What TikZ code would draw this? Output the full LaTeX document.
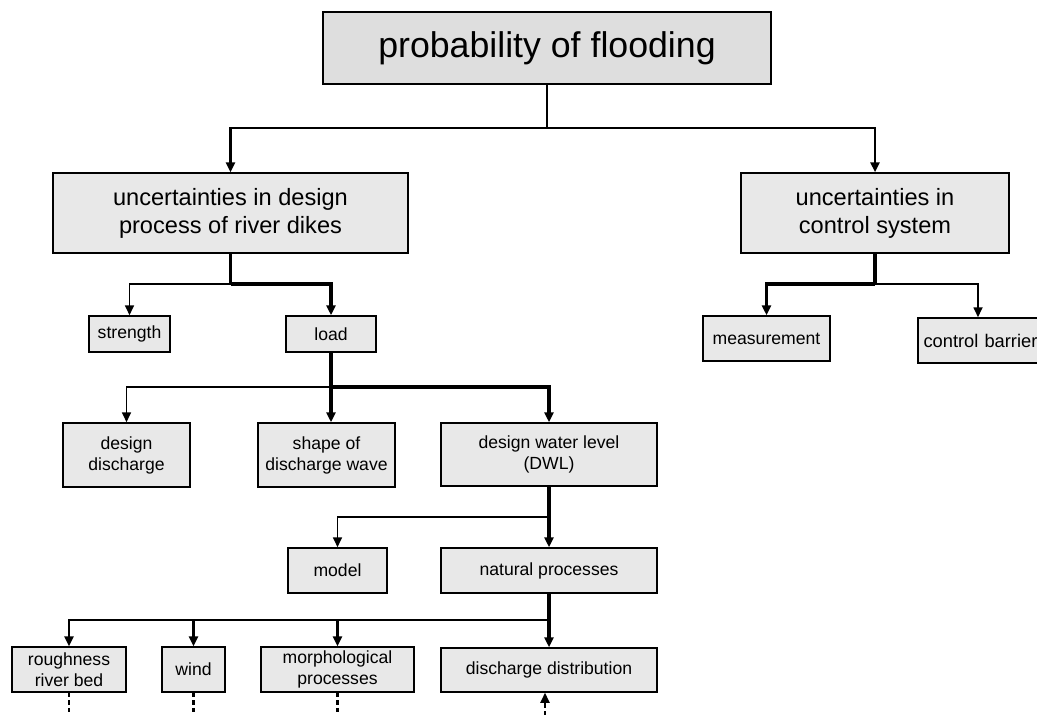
\documentclass[tikz,border=0pt]{standalone}
\usepackage{fontspec}
\setmainfont{Liberation Sans}
\usetikzlibrary{arrows.meta}
\definecolor{boxfill}{HTML}{E8E8E8}
\definecolor{topfill}{HTML}{DEDEDE}
\tikzset{
  box/.style={draw=black, line width=1.5pt, fill=boxfill, inner sep=0pt, align=center, font=\fontsize{17.6}{21}\selectfont},
  midbox/.style={box, font=\fontsize{23.6}{28}\selectfont},
  topbox/.style={box, fill=topfill, font=\fontsize{35.7}{42}\selectfont},
  thinln/.style={line width=1.7pt},
  medln/.style={line width=2.4pt},
  thickln/.style={line width=3.3pt},
  arr/.style={-{Triangle[length=10pt,width=9pt]}},
  dashln/.style={line width=2.1pt, dash pattern=on 4.5pt off 3pt}
}
\begin{document}
\begin{tikzpicture}[x=1pt,y=-1pt]
\useasboundingbox (0,0) rectangle (1037,715);
\fill[white] (0,0) rectangle (1037,715);
% nodes
\node[topbox, minimum width=448, minimum height=72] (top) at (547,48) {probability of flooding};
\node[midbox, minimum width=355, minimum height=80] (dikes) at (230.5,213) {uncertainties in design\\process of river dikes};
\node[midbox, minimum width=268, minimum height=80] (ctrl) at (875,213) {uncertainties in\\control system};
\node[box, minimum width=81, minimum height=36] (strength) at (129.5,334) {strength};
\node[box, minimum width=90, minimum height=36] (load) at (331,334) {load};
\node[box, minimum width=127, minimum height=45] (meas) at (766.5,338.5) {measurement};
\node[box, minimum width=142, minimum height=45, text width=131, align=left, font=\fontsize{18.3}{21}\selectfont] (barrier) at (989,340.5) {control barrier};
\node[box, minimum width=127, minimum height=64] (ddis) at (126.5,455) {design\\discharge};
\node[box, minimum width=137, minimum height=64] (shape) at (326.5,455) {shape of\\discharge wave};
\node[box, minimum width=216, minimum height=63] (dwl) at (549,454.5) {design water level\\(DWL)};
\node[box, minimum width=99, minimum height=45] (model) at (337.5,570.5) {model};
\node[box, minimum width=216, minimum height=45] (nat) at (549,570.5) {natural processes};
\node[box, minimum width=114, minimum height=45] (rough) at (69,669.5) {roughness\\river bed};
\node[box, minimum width=63, minimum height=45] (wind) at (193.5,669.5) {wind};
\node[box, minimum width=153, minimum height=45] (morph) at (337.5,669.5) {morphological\\processes};
\node[box, minimum width=216, minimum height=44] (dist) at (549,670) {discharge distribution};
% junctions
\coordinate (j1) at (547,128);
\coordinate (j2) at (230.5,284);
\coordinate (j3) at (875,284);
\coordinate (j4) at (331,387);
\coordinate (j5) at (549,517);
\coordinate (j6) at (549,620);
\coordinate (e1) at (69,730);
\coordinate (e2) at (193.5,730);
\coordinate (e3) at (337.5,730);
\coordinate (e4) at (545,730);
% connectors
\draw[medln] (top.south) -- (j1);
\draw[medln,arr] (j1) -| (dikes.north);
\draw[medln,arr] (j1) -| (ctrl.north);
\draw[thickln] (dikes.south) -- (j2);
\draw[thinln,arr] (j2) -| (strength.north);
\draw[thickln,arr] (j2) -| (load.north);
\draw[thickln] (ctrl.south) -- (j3);
\draw[thickln,arr] (j3) -| (meas.north);
\draw[thinln,arr] (j3) -| ([xshift=-11pt]barrier.north);
\draw[thickln] (load.south) -- (j4);
\draw[thinln,arr] (j4) -| (ddis.north);
\draw[thickln,arr] (j4) -- ([xshift=4.5pt]shape.north);
\draw[thickln,arr] (j4) -| (dwl.north);
\draw[thickln] (dwl.south) -- (j5);
\draw[thinln,arr] (j5) -| (model.north);
\draw[thickln,arr] (j5) -- (nat.north);
\draw[thickln] (nat.south) -- (j6);
\draw[medln,arr] (j6) -| (rough.north);
\draw[medln,arr] (j6) -| (wind.north);
\draw[medln,arr] (j6) -| (morph.north);
\draw[thickln,arr] (j6) -- (dist.north);
\draw[dashln] (rough.south) -- (e1);
\draw[dashln] (wind.south) -- (e2);
\draw[dashln] (morph.south) -- (e3);
\draw[dashln,arr] (e4) -- ([xshift=-4pt]dist.south);
\end{tikzpicture}
\end{document}
